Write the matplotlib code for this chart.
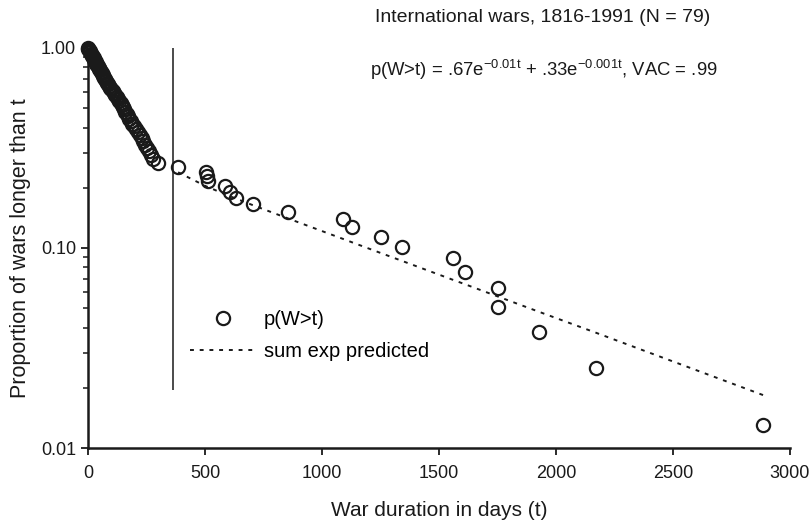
import matplotlib
matplotlib.use('Agg')
import matplotlib.pyplot as plt
from matplotlib.ticker import FixedLocator, FixedFormatter, LogLocator, NullFormatter

plt.rcParams['font.family'] = ['Liberation Sans', 'DejaVu Sans']
plt.rcParams['mathtext.fontset'] = 'custom'
plt.rcParams['mathtext.rm'] = 'Liberation Sans'
plt.rcParams['mathtext.it'] = 'Liberation Sans'
plt.rcParams['mathtext.bf'] = 'Liberation Sans'

# war durations in days (t), sorted
durations = [1, 2, 5, 8, 10, 13, 15, 18, 21, 24, 26, 29, 32, 35, 38, 42, 45, 48, 51, 54,
             58, 62, 65, 69, 73, 77, 82, 86, 90, 95, 100, 105, 111, 117, 122, 128, 134, 139,
             144, 149, 154, 160, 165, 171, 177, 183, 190, 198, 205, 213, 222, 230, 237, 245,
             252, 260, 269, 277, 300,
             385, 504, 509, 513, 585, 607, 632, 705, 855, 1090, 1128, 1252, 1342, 1560,
             1611, 1752, 1752, 1927, 2171, 2885]

# observed p(W>t)
p_obs = [1.000, 0.987, 0.975, 0.962, 0.949, 0.937, 0.924, 0.911, 0.899, 0.886,
         0.873, 0.861, 0.848, 0.835, 0.823, 0.810, 0.797, 0.785, 0.772, 0.759,
         0.747, 0.734, 0.722, 0.709, 0.696, 0.684, 0.671, 0.658, 0.646, 0.633,
         0.620, 0.608, 0.595, 0.582, 0.570, 0.557, 0.544, 0.532, 0.519, 0.506,
         0.494, 0.481, 0.468, 0.456, 0.443, 0.430, 0.418, 0.405, 0.392, 0.380,
         0.367, 0.354, 0.342, 0.329, 0.316, 0.304, 0.291, 0.278, 0.266,
         0.253, 0.241, 0.228, 0.215, 0.203, 0.190, 0.177, 0.165, 0.152, 0.139,
         0.127, 0.114, 0.101, 0.089, 0.076, 0.063, 0.051, 0.038, 0.025, 0.013]

# sum-of-exponentials prediction (t > 1 year)
t_pred = [385, 504, 509, 513, 585, 607, 632, 705, 855, 1090, 1128, 1252, 1342, 1560,
          1611, 1752, 1927, 2171, 2885]
p_pred = [0.239, 0.2036, 0.2024, 0.2016, 0.1857, 0.1814, 0.1766, 0.1636, 0.1405, 0.1110,
          0.1068, 0.0943, 0.0862, 0.0693, 0.0659, 0.0572, 0.0480, 0.0377, 0.0184]

one_year = 365
ink = '#1a1a1a'

fig = plt.figure(figsize=(8.09, 5.21), dpi=100)
ax = fig.add_axes([0.1088, 0.140, 0.8677, 0.768])

ax.plot(durations, p_obs, linestyle='none', marker='o', ms=9.5, mfc='none',
        mec=ink, mew=1.6, label='p(W>t)', clip_on=False, zorder=3)
ax.plot(t_pred, p_pred, linestyle=(0, (2, 3)), color=ink, lw=1.4,
        label='sum exp predicted')
ax.vlines(one_year, 0.0195, 1.0, color=ink, lw=1.1)

ax.set_yscale('log')
ax.set_xlim(0, 3000)
ax.set_ylim(0.01, 1.0)
ax.set_xticks([0, 500, 1000, 1500, 2000, 2500, 3000])
ax.yaxis.set_major_locator(FixedLocator([0.01, 0.1, 1.0]))
ax.yaxis.set_major_formatter(FixedFormatter(['0.01', '0.10', '1.00']))
ax.yaxis.set_minor_locator(LogLocator(base=10, subs=range(2, 10)))
ax.yaxis.set_minor_formatter(NullFormatter())

for s in ['top', 'right']:
    ax.spines[s].set_visible(False)
for s in ['left', 'bottom']:
    ax.spines[s].set_linewidth(1.8)
    ax.spines[s].set_color(ink)

ax.tick_params(axis='both', which='major', direction='out', length=5, width=1.3,
               labelsize=13, colors=ink)
ax.tick_params(axis='y', which='minor', direction='out', length=3.5, width=1.1, colors=ink)
ax.tick_params(axis='x', pad=7)

ax.set_xlabel('War duration in days (t)', fontsize=15, labelpad=14, color=ink)
ax.set_ylabel('Proportion of wars longer than t', fontsize=15.5, labelpad=7, color=ink)

fig.text(375 / 809, 1 - 18 / 521, 'International wars, 1816-1991 (N = 79)',
         fontsize=14, va='center', ha='left', color=ink)
fig.text(370 / 809, 1 - 70 / 521,
         r'p(W>t) = .67e$^{\mathrm{-0.01t}}$ + .33e$^{\mathrm{-0.001t}}$, VAC = .99',
         fontsize=13.3, va='center', ha='left', color=ink)

ax.legend(loc='upper left', bbox_to_anchor=(190 / 809, 1 - 310 / 521),
          bbox_transform=fig.transFigure, frameon=False, fontsize=14.5,
          handlelength=3.3, handletextpad=0.35, labelspacing=0.65, borderpad=0,
          borderaxespad=0)

fig.savefig('out.png', dpi=100)
